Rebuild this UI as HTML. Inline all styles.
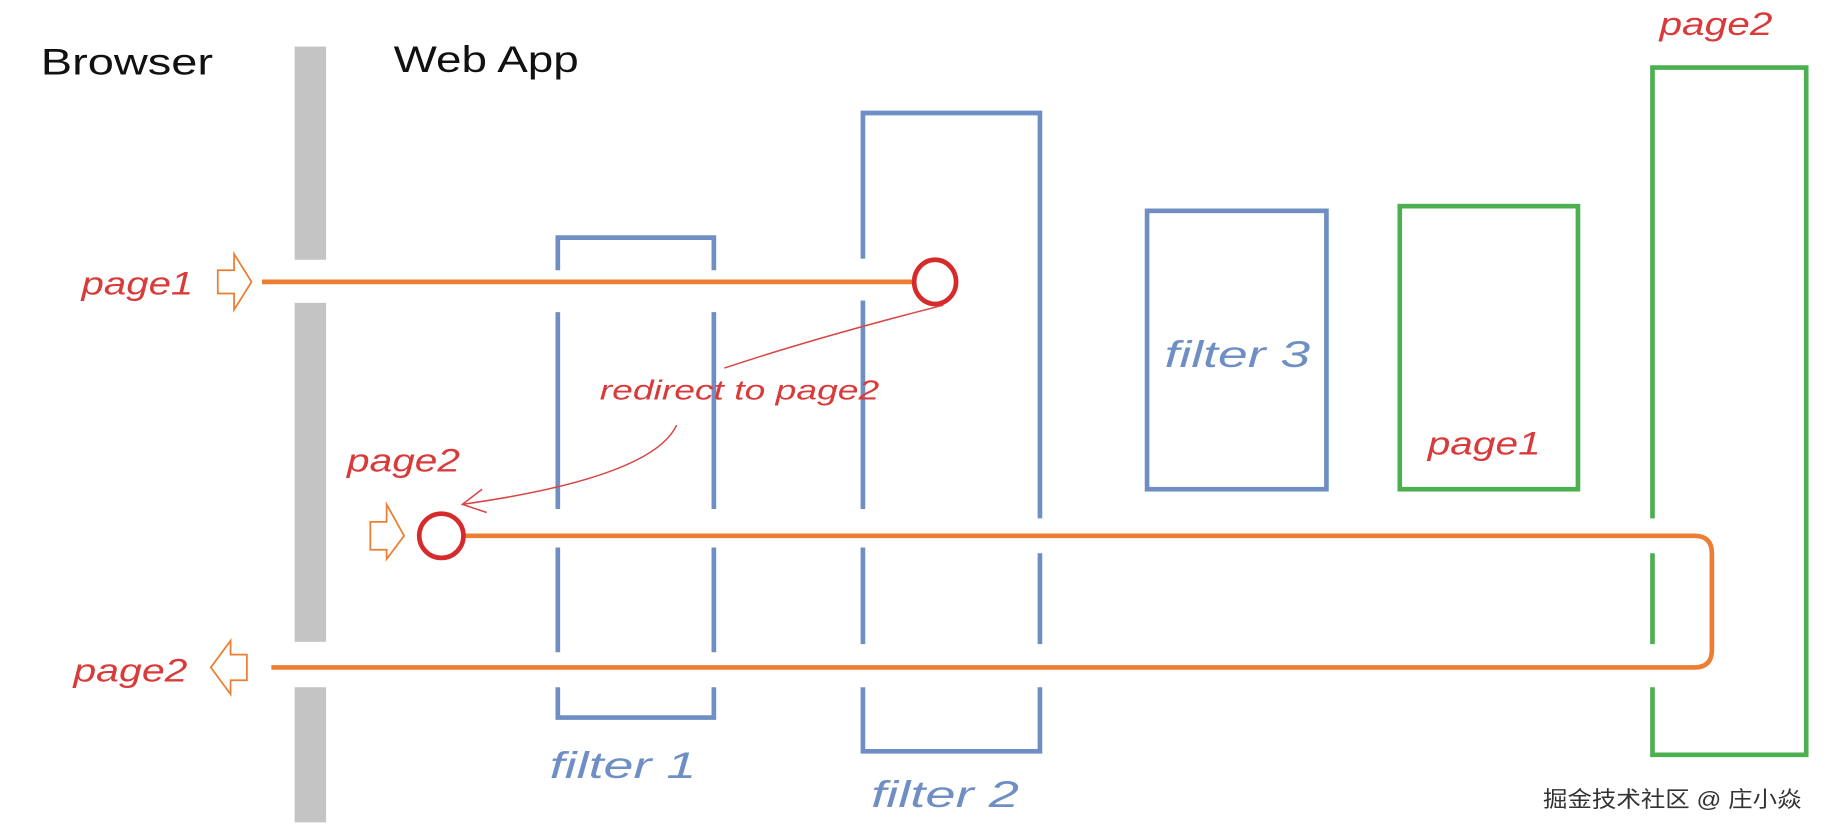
<!DOCTYPE html>
<html><head><meta charset="utf-8"><style>
html,body{margin:0;padding:0;background:#fff;width:1826px;height:834px;overflow:hidden}
svg{display:block}
text{font-family:"Liberation Sans","Noto Sans CJK SC",sans-serif}
</style></head><body>
<svg width="1826" height="834" viewBox="0 0 1568 716" preserveAspectRatio="none">
<g font-size="32" fill="#111"><text x="35" y="64" textLength="148" lengthAdjust="spacingAndGlyphs">Browser</text><text x="338" y="62" textLength="159" lengthAdjust="spacingAndGlyphs">Web App</text></g>
<g fill="#c4c4c4"><rect x="253" y="40" width="27" height="183"/><rect x="253" y="260" width="27" height="291"/><rect x="253" y="590" width="27" height="116"/></g>
<g stroke="#6f8fc4" stroke-width="4" fill="none">
<path d="M479 232V204H613V232"/><path d="M479 268V437M479 470V560M479 590V616H613V590M613 560V470M613 437V268"/>
<path d="M741 222V97H893V445M741 258V437M741 470V553M741 590V645H893V590M893 475V553"/>
<rect x="985" y="181" width="154" height="239"/>
</g>
<g stroke="#4caf50" stroke-width="4" fill="none">
<rect x="1202" y="177" width="153" height="243"/>
<path d="M1419 445V58H1551V648H1419V590M1419 475V553"/>
</g>
<g stroke="#ed7d31" stroke-width="4" fill="none">
<line x1="225" y1="242" x2="785" y2="242"/>
<path d="M398 460H1455Q1470 460 1470 475V558Q1470 573 1455 573H233"/>
</g>
<g stroke="#ed7d31" stroke-width="1.5" fill="#fff">
<path d="M187 232H201V218L216 242L201 266V252H187Z"/>
<path d="M318 448H332V433L347 460L332 480V472H318Z"/>
<path d="M212 562H198V550L181 573L198 596V584H212Z"/>
</g>
<g stroke="#d62b2b" stroke-width="4" fill="#fff"><ellipse cx="803" cy="242" rx="18" ry="19"/><circle cx="379" cy="460" r="19"/></g>
<g stroke="#d94545" stroke-width="1.3" fill="none">
<path d="M810 262Q700 290 622 316"/>
<path d="M581 365Q560 410 397 433"/><path d="M414 420L397 433L418 440"/>
</g>
<g fill="#d93a3a" font-size="28" font-style="italic">
<text x="70" y="253" textLength="96" lengthAdjust="spacingAndGlyphs">page1</text><text x="298" y="405" textLength="97" lengthAdjust="spacingAndGlyphs">page2</text><text x="63" y="585" textLength="98" lengthAdjust="spacingAndGlyphs">page2</text>
<text x="1226" y="390" textLength="97" lengthAdjust="spacingAndGlyphs">page1</text><text x="1425" y="30" textLength="97" lengthAdjust="spacingAndGlyphs">page2</text>
<text x="515" y="343" font-size="24" textLength="240" lengthAdjust="spacingAndGlyphs">redirect to page2</text>
</g>
<g fill="#6f8fc4" font-size="32" font-style="italic">
<text x="1000" y="315" textLength="125" lengthAdjust="spacingAndGlyphs">filter 3</text><text x="472" y="668" textLength="126" lengthAdjust="spacingAndGlyphs">filter 1</text><text x="748" y="693" textLength="127" lengthAdjust="spacingAndGlyphs">filter 2</text>
</g>
<text x="1325" y="693" font-size="19" fill="#333" textLength="222" lengthAdjust="spacingAndGlyphs">掘金技术社区 @ 庄小焱</text>
</svg>
</body></html>
